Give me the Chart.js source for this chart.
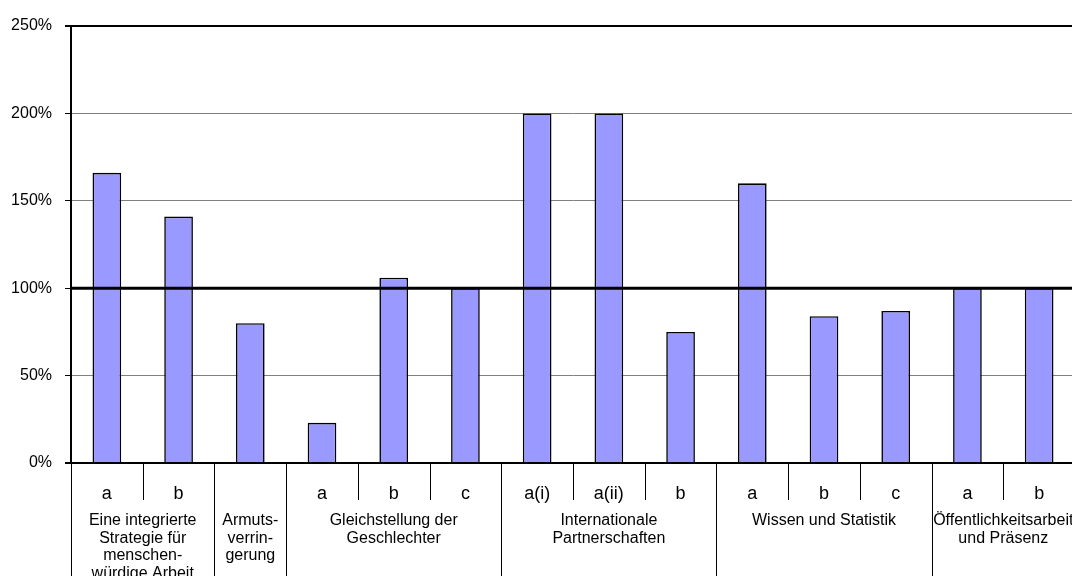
<!DOCTYPE html>
<html>
<head>
<meta charset="utf-8">
<script src="https://cdn.jsdelivr.net/npm/chart.js@4/dist/chart.umd.min.js"></script>
<style>
  html, body { margin: 0; padding: 0; background: #fff; overflow: hidden; }
  #wrap { position: relative; width: 1076px; height: 576px; }
</style>
</head>
<body>
<div id="wrap"><canvas id="c"></canvas></div>
<script>
// Sub-item labels, one per bar
const categories = ['a', 'b', '', 'a', 'b', 'c', 'a(i)', 'a(ii)', 'b', 'a', 'b', 'c', 'a', 'b'];
// Achievement rate per item, in percent
const values = [166, 141, 80, 23, 106, 100, 200, 200, 75, 160, 84, 87, 100, 100];
// Outcome groups: label lines and the number of items they span
const groupLabels = [
  ['Eine integrierte', 'Strategie für', 'menschen-', 'würdige Arbeit'],
  ['Armuts-', 'verrin-', 'gerung'],
  ['Gleichstellung der', 'Geschlechter'],
  ['Internationale', 'Partnerschaften'],
  ['Wissen und Statistik'],
  ['Öffentlichkeitsarbeit', 'und Präsenz']
];
const groupSizes = [2, 1, 3, 3, 3, 2];
// Y axis tick values
const yTicks = [0, 50, 100, 150, 200, 250];
const target = 100;

const FONT = '"Liberation Sans", Arial, sans-serif';

// Target line drawn over the bars
const targetLine = {
  id: 'targetLine',
  afterDatasetsDraw(chart) {
    const { ctx, chartArea, scales } = chart;
    const y = scales.y.getPixelForValue(target);
    ctx.save();
    ctx.strokeStyle = '#000';
    ctx.lineWidth = 3;
    ctx.beginPath();
    ctx.moveTo(chartArea.left, y);
    ctx.lineTo(chartArea.right, y);
    ctx.stroke();
    ctx.restore();
  }
};

// Two-level category axis: sub-items and their groups
const groupAxis = {
  id: 'groupAxis',
  afterDraw(chart) {
    const { ctx, chartArea, scales } = chart;
    const x = scales.x;
    const n = categories.length;
    const bottom = chartArea.bottom;
    const H = chart.height;
    const bound = (i) => {
      if (i === 0) return chartArea.left;
      if (i === n) return chartArea.right;
      return (x.getPixelForValue(i - 1) + x.getPixelForValue(i)) / 2;
    };
    const groupStarts = [0];
    groupSizes.forEach(s => groupStarts.push(groupStarts[groupStarts.length - 1] + s));

    ctx.save();
    ctx.strokeStyle = '#000';
    ctx.lineWidth = 1;
    for (let i = 0; i <= n; i++) {
      const bx = Math.round(bound(i)) + 0.5;
      const isGroup = groupStarts.includes(i);
      ctx.beginPath();
      ctx.moveTo(bx, bottom);
      ctx.lineTo(bx, isGroup ? H : bottom + 37);
      ctx.stroke();
    }

    ctx.fillStyle = '#000';
    ctx.textAlign = 'center';
    ctx.textBaseline = 'alphabetic';
    ctx.font = '18px ' + FONT;
    categories.forEach((c, i) => {
      if (c) ctx.fillText(c, x.getPixelForValue(i), bottom + 36);
    });

    ctx.font = '16px ' + FONT;
    groupLabels.forEach((lines, g) => {
      const cx = (bound(groupStarts[g]) + bound(groupStarts[g + 1])) / 2;
      lines.forEach((t, k) => ctx.fillText(t, cx, bottom + 62 + k * 17.5));
    });
    ctx.restore();
  }
};

new Chart(document.getElementById('c'), {
  type: 'bar',
  data: {
    labels: categories.map((c, i) => c || ' ' + i),
    datasets: [{
      data: values,
      backgroundColor: '#9999FF',
      borderColor: '#000',
      borderWidth: 1.6,
      barPercentage: 0.4,
      categoryPercentage: 1
    }]
  },
  options: {
    responsive: true,
    maintainAspectRatio: false,
    animation: false,
    layout: { padding: { top: 26, right: 1, bottom: 113, left: 0 } },
    plugins: { legend: { display: false }, tooltip: { enabled: false } },
    scales: {
      x: {
        display: false
      },
      y: {
        min: 0,
        max: 250,
        afterFit(scale) { scale.width = 71; },
        afterBuildTicks(scale) { scale.ticks = yTicks.map(v => ({ value: v })); },
        ticks: {
          padding: 13,
          color: '#000',
          font: { family: FONT, size: 16 },
          callback: v => v + '%'
        },
        border: { display: true, color: '#000', width: 2 },
        grid: {
          drawTicks: true,
          tickLength: 6,
          tickColor: '#000',
          color: ctx => (ctx.tick && (ctx.tick.value === 250 || ctx.tick.value === 0)) ? '#000' : '#808080',
          lineWidth: ctx => (ctx.tick && (ctx.tick.value === 0 || ctx.tick.value === 250)) ? 2 : 1
        }
      }
    }
  },
  plugins: [targetLine, groupAxis]
});
</script>
</body>
</html>
